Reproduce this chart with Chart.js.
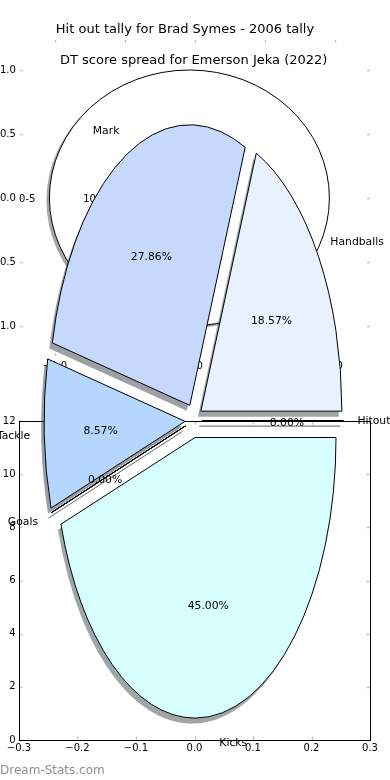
<!DOCTYPE html>
<html><head><meta charset="utf-8">
<script src="https://cdn.jsdelivr.net/npm/chart.js@4.4.1/dist/chart.umd.min.js"></script>
<style>
html,body{margin:0;padding:0;background:#fff;width:390px;height:780px;overflow:hidden;}
.layer{position:absolute;left:0;top:0;width:390px;height:780px;}
#wm{position:absolute;left:0;top:763px;font-family:"DejaVu Sans";font-size:12px;line-height:14px;color:#8e8e8e;white-space:nowrap;}
</style></head><body>
<div class="layer"><canvas id="hitAxes" width="390" height="780"></canvas></div>
<div class="layer"><canvas id="hitPie" width="390" height="780"></canvas></div>
<div class="layer"><canvas id="frame" width="390" height="780"></canvas></div>
<div class="layer"><canvas id="dtPie" width="390" height="780"></canvas></div>
<div id="wm">Dream-Stats.com</div>
<script>
// ---------- data ----------
const hitTitle = 'Hit out tally for Brad Symes - 2006 tally';
const hitCategories = ['0-5'];
const hitValues = [1];
const hitColors = ['#ffffff'];
const hitXTicks = [-1, -0.5, 0, 0.5, 1];
const hitXTickLabels = ['\u22121.0', '\u22120.5', '0.0', '0.5', '1.0'];
const hitYTicks = [-1, -0.5, 0, 0.5, 1];
const hitYTickLabels = ['\u22121.0', '\u22120.5', '0.0', '0.5', '1.0'];

const dtTitle = 'DT score spread for Emerson Jeka (2022)';
const dtCategories = ['Kicks', 'Goals', 'Tackle', 'Mark', 'Handballs', 'Hitout'];
const dtValues = [63, 0, 12, 39, 26, 0];
const dtColors = ['#d8ffff', '#c8e0ff', '#b5d6fe', '#c6d9fd', '#eaf1fe', '#e0ecff'];

const frameXTicks = [-0.3, -0.2, -0.1, 0, 0.1, 0.2, 0.3];
const frameXTickLabels = ['\u22120.3', '\u22120.2', '\u22120.1', '0.0', '0.1', '0.2', '0.3'];
const frameYTicks = [0, 2, 4, 6, 8, 10, 12];
const frameYTickLabels = ['0', '2', '4', '6', '8', '10', '12'];

// ---------- helpers ----------
Chart.defaults.font.family = '"DejaVu Sans"';
const TICKFONT = {family: '"DejaVu Sans"', size: 10, weight: 'normal'};

function shadowOf(hex) {
  const n = parseInt(hex.slice(1), 16);
  const r = (n >> 16) & 255, g = (n >> 8) & 255, b = n & 255;
  return 'rgba(' + Math.round(r * 0.3) + ',' + Math.round(g * 0.3) + ',' + Math.round(b * 0.3) + ',0.5)';
}

const inwardTicks = {
  id: 'inwardTicks',
  afterDraw(chart, args, o) {
    const ctx = chart.ctx, a = chart.chartArea;
    const xs = chart.scales.x, ys = chart.scales.y;
    ctx.save();
    ctx.strokeStyle = o.color; ctx.lineWidth = o.width;
    const L = o.length;
    ctx.beginPath();
    xs.ticks.forEach(t => {
      const p = Math.round(xs.getPixelForValue(t.value)) + 0.5;
      ctx.moveTo(p, a.top); ctx.lineTo(p, a.top + L);
      ctx.moveTo(p, a.bottom); ctx.lineTo(p, a.bottom - L);
    });
    ys.ticks.forEach(t => {
      const p = Math.round(ys.getPixelForValue(t.value)) + 0.5;
      ctx.moveTo(a.left, p); ctx.lineTo(a.left + L, p);
      ctx.moveTo(a.right, p); ctx.lineTo(a.right - L, p);
    });
    ctx.stroke();
    if (o.frame) {
      ctx.strokeStyle = '#000'; ctx.lineWidth = 1;
      ctx.strokeRect(a.left + 0.5, a.top + 0.5, a.right - a.left, a.bottom - a.top);
    }
    ctx.restore();
  }
};

function ellipsePie(o) {
  return {
    id: 'ellipsePie',
    beforeDatasetsDraw(chart) {
      const ctx = chart.ctx;
      const base = ctx.getTransform();
      const arcs = chart.getDatasetMeta(0).data;
      const ds = chart.data.datasets[0];
      const total = ds.data.reduce((s, v) => s + v, 0);
      const geo = arcs.map((arc, i) => {
        const mid = (arc.startAngle + arc.endAngle) / 2;
        const R = arc.outerRadius;
        return {arc, i, mid, R, ex: Math.cos(mid) * o.explode * R, ey: Math.sin(mid) * o.explode * R};
      });
      const frame = g => {
        ctx.translate(g.arc.x, g.arc.y);
        ctx.scale(1, o.ky);
        ctx.translate(-g.arc.x + g.ex, -g.arc.y + g.ey);
      };
      const shape = g => {
        const a = g.arc;
        ctx.beginPath();
        if (a.circumference >= Math.PI * 2 - 1e-6) {
          ctx.arc(a.x, a.y, g.R, 0, Math.PI * 2);
        } else {
          ctx.moveTo(a.x, a.y);
          ctx.arc(a.x, a.y, g.R, a.startAngle, a.endAngle);
          ctx.closePath();
        }
      };
      // pass 1: shadows
      geo.forEach(g => {
        ctx.save();
        ctx.shadowColor = shadowOf(ds.backgroundColor[g.i]);
        ctx.shadowOffsetX = o.sdx; ctx.shadowOffsetY = o.sdy; ctx.shadowBlur = 0;
        frame(g);
        if (g.arc.circumference > 0) {
          g.arc.draw(ctx);
        } else {
          shape(g);
          ctx.setTransform(base);
          ctx.lineWidth = 1; ctx.strokeStyle = '#000'; ctx.stroke();
        }
        ctx.restore();
      });
      // pass 2: faces and edges
      geo.forEach(g => {
        ctx.save();
        frame(g);
        if (g.arc.circumference > 0) g.arc.draw(ctx);
        shape(g);
        ctx.setTransform(base);
        ctx.lineWidth = 1; ctx.lineJoin = 'round'; ctx.strokeStyle = '#000';
        ctx.stroke();
        ctx.restore();
      });
      // labels
      ctx.save();
      ctx.fillStyle = '#000';
      ctx.font = o.fontSize + 'px "DejaVu Sans"';
      ctx.textBaseline = 'middle';
      geo.forEach(g => {
        const c = Math.cos(g.mid), s = Math.sin(g.mid);
        const cx = g.arc.x + g.ex, cy = g.arc.y + g.ey * o.ky;
        ctx.textAlign = c > 0 ? 'left' : 'right';
        ctx.fillText(chart.data.labels[g.i], cx + 1.1 * g.R * c, cy + 1.1 * g.R * s * o.ky + o.labelDy);
        ctx.textAlign = 'center';
        const pct = (ds.data[g.i] / total * 100).toFixed(2) + '%';
        ctx.fillText(pct, cx + 0.6 * g.R * c, cy + 0.6 * g.R * s * o.ky + o.pctDy);
      });
      ctx.restore();
      return false;
    }
  };
}

const noInteract = {responsive: false, animation: false, events: []};
const noGrid = {display: false, drawTicks: false, tickLength: 0};

// ---------- Hit out figure: axes ----------
new Chart(document.getElementById('hitAxes'), {
  type: 'scatter',
  data: {datasets: [{data: []}]},
  options: Object.assign({}, noInteract, {
    layout: {padding: {left: 0, right: 20, top: 0, bottom: 404}},
    plugins: {
      legend: {display: false}, tooltip: {enabled: false},
      title: {display: true, text: hitTitle, color: '#000',
        font: {family: '"DejaVu Sans"', size: 13, weight: 'normal', lineHeight: 1.2},
        padding: {top: 22.3, bottom: 2.1}},
      inwardTicks: {color: '#c4c4c4', width: 1.3, length: 3, frame: false}
    },
    scales: {
      x: {type: 'linear', position: 'bottom', min: -1.25, max: 1.25,
        afterBuildTicks: s => { s.ticks = hitXTicks.map(v => ({value: v})); },
        afterFit: s => { s.height = 20; },
        grid: noGrid, border: {display: false},
        ticks: {callback: (v, i) => hitXTickLabels[i], color: '#000', font: TICKFONT, padding: 4, maxRotation: 0, autoSkip: false}},
      y: {type: 'linear', position: 'left', min: -1.234, max: 1.234,
        afterBuildTicks: s => { s.ticks = hitYTicks.map(v => ({value: v})); },
        afterFit: s => { s.width = 20; },
        grid: noGrid, border: {display: false},
        ticks: {callback: (v, i) => hitYTickLabels[i], color: '#000', font: TICKFONT, padding: 4.2, autoSkip: false}}
    }
  }),
  plugins: [inwardTicks]
});

// ---------- Hit out figure: pie ----------
new Chart(document.getElementById('hitPie'), {
  type: 'pie',
  data: {labels: hitCategories, datasets: [{data: hitValues, backgroundColor: hitColors, borderWidth: 0, hoverOffset: 0, offset: 0}]},
  options: Object.assign({}, noInteract, {
    rotation: 90, radius: 140,
    layout: {padding: {left: 0, right: 0, top: 0, bottom: 384}},
    plugins: {legend: {display: false}, tooltip: {enabled: false}}
  }),
  plugins: [ellipsePie({ky: 0.9143, explode: 0.04, sdx: -3, sdy: 2.6, labelDy: 1, pctDy: 1, fontSize: 10})]
});

// ---------- frame axes ----------
new Chart(document.getElementById('frame'), {
  type: 'scatter',
  data: {datasets: [{data: []}]},
  options: Object.assign({}, noInteract, {
    layout: {padding: {left: 0, right: 20, top: 421, bottom: 0}},
    plugins: {
      legend: {display: false}, tooltip: {enabled: false},
      inwardTicks: {color: '#c4c4c4', width: 1.3, length: 3.5, frame: true}
    },
    scales: {
      x: {type: 'linear', position: 'bottom', min: -0.3, max: 0.3,
        afterBuildTicks: s => { s.ticks = frameXTicks.map(v => ({value: v})); },
        afterFit: s => { s.height = 40; },
        grid: noGrid, border: {display: false},
        ticks: {callback: (v, i) => frameXTickLabels[i], color: '#000', font: TICKFONT, padding: 2, maxRotation: 0, autoSkip: false}},
      y: {type: 'linear', position: 'left', min: 0, max: 12,
        afterBuildTicks: s => { s.ticks = frameYTicks.map(v => ({value: v})); },
        afterFit: s => { s.width = 19; },
        grid: noGrid, border: {display: false},
        ticks: {callback: (v, i) => frameYTickLabels[i], color: '#000', font: TICKFONT, padding: 3.5, autoSkip: false}}
    }
  }),
  plugins: [inwardTicks]
});

// ---------- DT score pie ----------
new Chart(document.getElementById('dtPie'), {
  type: 'pie',
  data: {labels: dtCategories, datasets: [{data: dtValues, backgroundColor: dtColors, borderWidth: 0, hoverOffset: 0, offset: 0}]},
  options: Object.assign({}, noInteract, {
    rotation: 90, radius: 141,
    layout: {padding: {left: 0, right: 2.6, top: 0, bottom: 7.4}},
    plugins: {
      legend: {display: false}, tooltip: {enabled: false},
      title: {display: true, text: dtTitle, color: '#000',
        font: {family: '"DejaVu Sans"', size: 13, weight: 'normal', lineHeight: 1.2},
        padding: {top: 53, bottom: 0}}
    }
  }),
  plugins: [ellipsePie({ky: 1.99, explode: 0.061, sdx: -3, sdy: 5.5, labelDy: 1, pctDy: 2.3, fontSize: 10.8})]
});
</script>
</body></html>
